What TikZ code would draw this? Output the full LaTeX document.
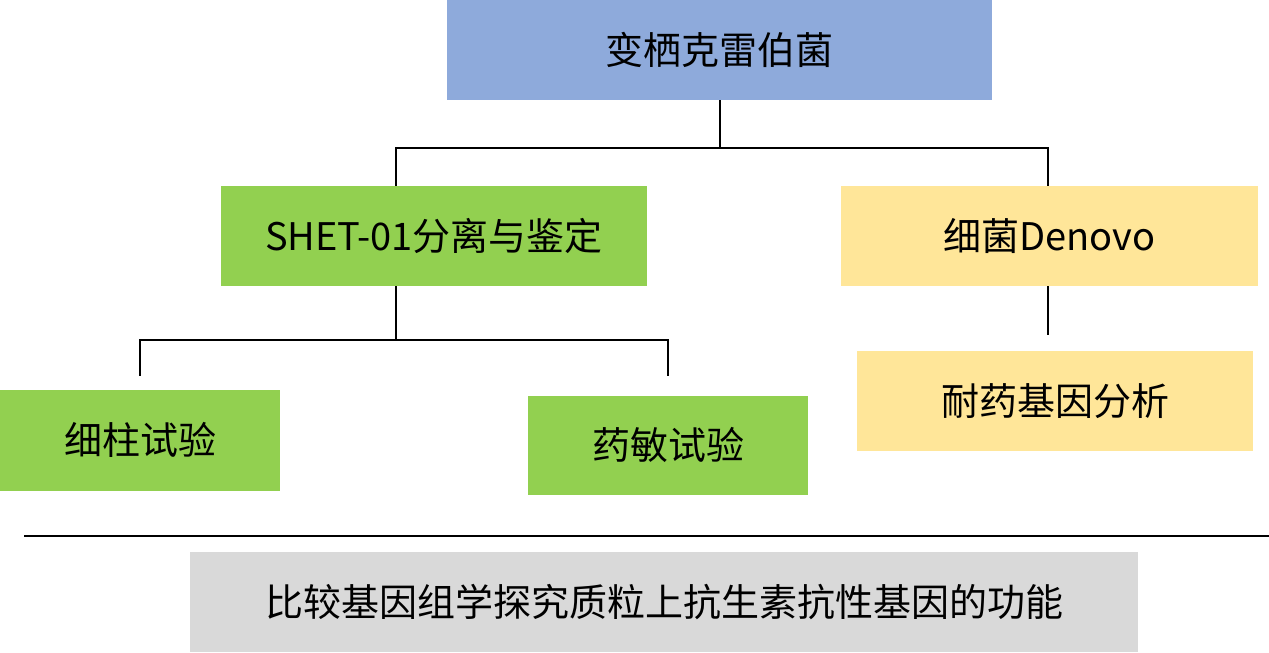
\documentclass[tikz,border=0pt]{standalone}
\usepackage{fontspec}
\setmainfont{Noto Sans CJK SC}
\definecolor{cblue}{HTML}{8EAADB}
\definecolor{cgreen}{HTML}{92D050}
\definecolor{cyellow}{HTML}{FFE699}
\definecolor{cgray}{HTML}{D9D9D9}
\begin{document}
\begin{tikzpicture}[x=1pt,y=-1pt,
  box/.style={inner sep=0pt,font=\fontsize{38}{44}\selectfont},
  ln/.style={line width=2pt,black}]
\useasboundingbox (0,0) rectangle (1269,653);
\fill[cblue] (447,0) rectangle (992,100);
\node[box] (top) at (719.5,50) {变栖克雷伯菌};
\fill[cgreen] (221,186) rectangle (647,286);
\node[box] (shet) at (434,236) {SHET-01分离与鉴定};
\fill[cyellow] (841,186) rectangle (1258,286);
\node[box] (deno) at (1049.5,236) {细菌Denovo};
\fill[cgreen] (0,390) rectangle (280,491);
\node[box] (xz) at (140,440) {细柱试验};
\fill[cgreen] (528,396) rectangle (808,495);
\node[box] (ym) at (668,445) {药敏试验};
\fill[cyellow] (857,351) rectangle (1253,451);
\node[box] (nyj) at (1055,401) {耐药基因分析};
\fill[cgray] (190,552) rectangle (1138,652);
\node[box] (bj) at (664,602) {比较基因组学探究质粒上抗生素抗性基因的功能};
\coordinate (a) at (720,100);
\coordinate (b) at (396,186);
\coordinate (c) at (1048,186);
\draw[ln] (a) -- (720,148) -| (b);
\draw[ln] (720,148) -| (c);
\coordinate (d) at (396,286);
\coordinate (e) at (140,376);
\coordinate (f) at (668,376);
\draw[ln] (d) -- (396,340) -| (e);
\draw[ln] (396,340) -| (f);
\coordinate (g) at (1048,286);
\coordinate (h) at (1048,335);
\draw[ln] (g) -- (h);
\coordinate (l1) at (24,536);
\coordinate (l2) at (1269,536);
\draw[ln] (l1) -- (l2);
\end{tikzpicture}
\end{document}
